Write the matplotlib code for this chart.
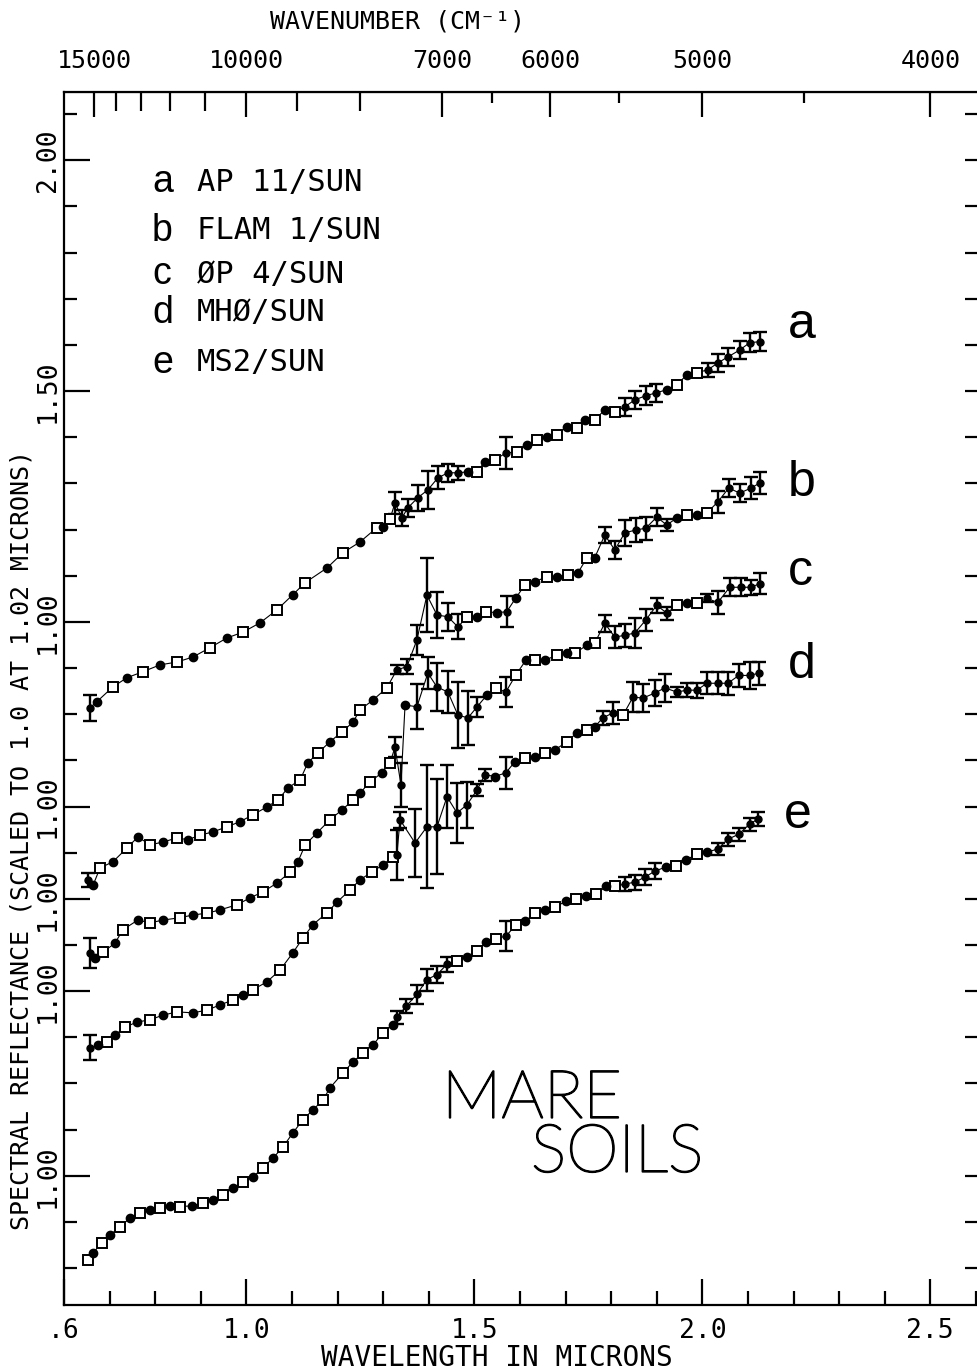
import numpy as np
import matplotlib.pyplot as plt
import matplotlib.patheffects as pe
from matplotlib.ticker import MultipleLocator, FixedLocator

plt.rcParams['font.family'] = ['DejaVu Sans Mono']

# curves: wavelength (microns), reflectance scaled to 1.0 at 1.02 um, error half-width
wl_a = [0.657, 0.672, 0.707, 0.738, 0.773, 0.811, 0.848, 0.883, 0.920, 0.957,
        0.993, 1.030, 1.067, 1.102, 1.129, 1.177, 1.212, 1.249, 1.286, 1.300,
        1.315, 1.326, 1.341, 1.354, 1.376, 1.398, 1.420, 1.442, 1.464, 1.486,
        1.506, 1.523, 1.545, 1.569, 1.593, 1.615, 1.637, 1.659, 1.681, 1.703,
        1.725, 1.743, 1.764, 1.786, 1.808, 1.830, 1.852, 1.876, 1.898, 1.922,
        1.944, 1.966, 1.988, 2.012, 2.034, 2.056, 2.082, 2.104, 2.126]
refl_a = [0.814, 0.827, 0.859, 0.879, 0.892, 0.907, 0.913, 0.924, 0.944, 0.965,
          0.978, 0.998, 1.026, 1.059, 1.085, 1.117, 1.150, 1.173, 1.204, 1.206,
          1.223, 1.258, 1.225, 1.247, 1.269, 1.286, 1.312, 1.323, 1.323, 1.325,
          1.325, 1.347, 1.351, 1.366, 1.368, 1.384, 1.394, 1.401, 1.405, 1.423,
          1.420, 1.438, 1.438, 1.459, 1.455, 1.466, 1.481, 1.490, 1.496, 1.503,
          1.514, 1.535, 1.540, 1.546, 1.561, 1.574, 1.589, 1.605, 1.607]
err_a = [0.028, 0, 0, 0, 0, 0, 0, 0, 0, 0,
         0, 0, 0, 0, 0, 0, 0, 0, 0, 0,
         0, 0.024, 0.017, 0.02, 0.028, 0.041, 0.025, 0.02, 0.015, 0,
         0, 0, 0, 0.034, 0, 0, 0, 0, 0, 0,
         0, 0, 0, 0, 0, 0.02, 0.02, 0.02, 0.02, 0,
         0, 0, 0, 0.015, 0.02, 0.02, 0.02, 0.02, 0.02]

wl_b = [0.653, 0.664, 0.679, 0.707, 0.738, 0.762, 0.789, 0.817, 0.848, 0.872,
        0.898, 0.927, 0.957, 0.986, 1.014, 1.045, 1.069, 1.091, 1.118, 1.135,
        1.157, 1.183, 1.210, 1.234, 1.249, 1.278, 1.308, 1.330, 1.352, 1.374,
        1.396, 1.418, 1.442, 1.464, 1.484, 1.506, 1.525, 1.550, 1.571, 1.591,
        1.611, 1.633, 1.659, 1.681, 1.705, 1.727, 1.747, 1.764, 1.786, 1.808,
        1.830, 1.854, 1.876, 1.900, 1.922, 1.944, 1.966, 1.988, 2.010, 2.034,
        2.058, 2.082, 2.107, 2.126]
refl_b = [0.841, 0.830, 0.867, 0.880, 0.910, 0.934, 0.917, 0.923, 0.932, 0.928,
          0.938, 0.945, 0.956, 0.967, 0.982, 0.999, 1.014, 1.040, 1.058, 1.095,
          1.116, 1.140, 1.162, 1.183, 1.209, 1.231, 1.257, 1.296, 1.303, 1.361,
          1.458, 1.415, 1.411, 1.389, 1.411, 1.411, 1.422, 1.420, 1.422, 1.452,
          1.480, 1.487, 1.498, 1.498, 1.502, 1.506, 1.539, 1.539, 1.588, 1.556,
          1.593, 1.599, 1.603, 1.627, 1.610, 1.625, 1.632, 1.632, 1.636, 1.660,
          1.690, 1.679, 1.690, 1.701]
err_b = [0.015, 0, 0, 0, 0, 0, 0, 0, 0, 0,
         0, 0, 0, 0, 0, 0, 0, 0, 0, 0,
         0, 0, 0, 0, 0, 0, 0, 0.01, 0.016, 0.033,
         0.08, 0.05, 0.03, 0.027, 0, 0, 0, 0, 0.034, 0,
         0, 0, 0, 0, 0, 0, 0, 0, 0.018, 0.02,
         0.028, 0.026, 0.025, 0.02, 0.013, 0, 0, 0, 0, 0.024,
         0.02, 0.02, 0.024, 0.024]

wl_c = [0.657, 0.668, 0.686, 0.712, 0.729, 0.762, 0.789, 0.817, 0.854, 0.883,
        0.914, 0.942, 0.979, 1.008, 1.036, 1.067, 1.096, 1.113, 1.129, 1.155,
        1.183, 1.210, 1.234, 1.249, 1.271, 1.297, 1.315, 1.326, 1.339, 1.348,
        1.374, 1.398, 1.418, 1.442, 1.464, 1.486, 1.506, 1.528, 1.547, 1.569,
        1.591, 1.613, 1.633, 1.655, 1.681, 1.703, 1.721, 1.747, 1.764, 1.786,
        1.808, 1.830, 1.852, 1.876, 1.900, 1.922, 1.944, 1.966, 1.988, 2.010,
        2.034, 2.060, 2.085, 2.107, 2.126]
refl_c = [0.883, 0.872, 0.885, 0.904, 0.933, 0.954, 0.948, 0.954, 0.959, 0.965,
          0.969, 0.976, 0.987, 1.002, 1.015, 1.034, 1.058, 1.080, 1.117, 1.143,
          1.171, 1.193, 1.214, 1.229, 1.253, 1.273, 1.294, 1.329, 1.247, 1.420,
          1.416, 1.489, 1.459, 1.448, 1.398, 1.392, 1.416, 1.442, 1.457, 1.448,
          1.485, 1.517, 1.517, 1.517, 1.528, 1.532, 1.532, 1.550, 1.554, 1.597,
          1.567, 1.571, 1.576, 1.604, 1.636, 1.619, 1.636, 1.640, 1.640, 1.651,
          1.642, 1.675, 1.675, 1.675, 1.683]
err_c = [0.033, 0, 0, 0, 0, 0, 0, 0, 0, 0,
         0, 0, 0, 0, 0, 0, 0, 0, 0, 0,
         0, 0, 0, 0, 0, 0, 0, 0.022, 0.047, 0,
         0.049, 0.035, 0.052, 0.045, 0.071, 0.058, 0.022, 0, 0, 0.033,
         0, 0, 0, 0, 0, 0, 0, 0, 0, 0.018,
         0.024, 0.025, 0.032, 0.024, 0.016, 0.014, 0, 0, 0, 0.009,
         0.025, 0.02, 0.02, 0.016, 0.022]

wl_d = [0.657, 0.675, 0.694, 0.712, 0.734, 0.760, 0.789, 0.817, 0.848, 0.883,
        0.914, 0.942, 0.971, 0.993, 1.014, 1.045, 1.074, 1.102, 1.124, 1.146,
        1.177, 1.199, 1.227, 1.249, 1.275, 1.300, 1.321, 1.330, 1.337, 1.370,
        1.396, 1.418, 1.440, 1.462, 1.484, 1.506, 1.523, 1.545, 1.569, 1.589,
        1.611, 1.633, 1.655, 1.677, 1.703, 1.725, 1.747, 1.764, 1.782, 1.804,
        1.826, 1.848, 1.870, 1.896, 1.918, 1.944, 1.966, 1.988, 2.010, 2.034,
        2.056, 2.080, 2.104, 2.124]
refl_d = [0.877, 0.883, 0.890, 0.905, 0.922, 0.933, 0.938, 0.948, 0.955, 0.953,
          0.959, 0.970, 0.981, 0.992, 1.003, 1.020, 1.046, 1.083, 1.115, 1.144,
          1.170, 1.193, 1.219, 1.241, 1.258, 1.274, 1.291, 1.295, 1.371, 1.321,
          1.356, 1.356, 1.421, 1.386, 1.404, 1.436, 1.469, 1.465, 1.473, 1.497,
          1.506, 1.508, 1.517, 1.523, 1.540, 1.560, 1.566, 1.573, 1.592, 1.603,
          1.598, 1.637, 1.635, 1.646, 1.657, 1.648, 1.652, 1.652, 1.667, 1.667,
          1.667, 1.684, 1.684, 1.689]
err_d = [0.027, 0, 0, 0, 0, 0, 0, 0, 0, 0,
         0, 0, 0, 0, 0, 0, 0, 0, 0, 0,
         0, 0, 0, 0, 0, 0, 0, 0.054, 0.017, 0.073,
         0.133, 0.103, 0.068, 0.065, 0.05, 0.013, 0.013, 0, 0.035, 0,
         0, 0, 0, 0, 0, 0, 0, 0, 0.016, 0.024,
         0, 0.032, 0.031, 0.029, 0.03, 0.011, 0.015, 0.016, 0.024, 0.024,
         0.025, 0.025, 0.029, 0.025]

wl_e = [0.653, 0.664, 0.683, 0.701, 0.723, 0.745, 0.767, 0.789, 0.811, 0.832,
        0.854, 0.881, 0.905, 0.927, 0.949, 0.971, 0.993, 1.014, 1.036, 1.058,
        1.080, 1.102, 1.124, 1.146, 1.168, 1.183, 1.212, 1.234, 1.256, 1.278,
        1.300, 1.321, 1.330, 1.350, 1.374, 1.396, 1.418, 1.440, 1.462, 1.484,
        1.506, 1.525, 1.547, 1.569, 1.591, 1.611, 1.633, 1.655, 1.677, 1.701,
        1.723, 1.745, 1.767, 1.789, 1.808, 1.830, 1.852, 1.874, 1.896, 1.920,
        1.942, 1.964, 1.988, 2.010, 2.034, 2.056, 2.080, 2.104, 2.122]
refl_e = [0.818, 0.833, 0.855, 0.872, 0.889, 0.909, 0.919, 0.926, 0.930, 0.935,
          0.933, 0.935, 0.941, 0.948, 0.959, 0.974, 0.987, 0.997, 1.017, 1.038,
          1.062, 1.093, 1.121, 1.143, 1.164, 1.190, 1.223, 1.247, 1.266, 1.284,
          1.310, 1.327, 1.343, 1.367, 1.393, 1.425, 1.436, 1.458, 1.465, 1.475,
          1.488, 1.506, 1.514, 1.519, 1.543, 1.551, 1.569, 1.575, 1.582, 1.595,
          1.599, 1.606, 1.610, 1.627, 1.627, 1.632, 1.636, 1.647, 1.660, 1.669,
          1.671, 1.684, 1.697, 1.701, 1.708, 1.729, 1.740, 1.762, 1.773]
err_e = [0, 0, 0, 0, 0, 0, 0, 0, 0, 0,
         0, 0, 0, 0, 0, 0, 0, 0, 0, 0,
         0, 0, 0, 0, 0, 0, 0, 0, 0, 0,
         0, 0, 0.015, 0.015, 0.02, 0.024, 0.018, 0.016, 0, 0,
         0, 0, 0, 0.033, 0, 0, 0, 0, 0, 0,
         0, 0, 0, 0, 0, 0.015, 0.016, 0.018, 0.018, 0,
         0, 0, 0, 0, 0.014, 0.014, 0.014, 0.014, 0.016]

curve_names = ['a', 'b', 'c', 'd', 'e']
curve_offsets = [0.0, -0.4, -0.6, -0.8, -1.2]
sample_names = ['AP 11/SUN', 'FLAM 1/SUN', 'ØP 4/SUN', 'MHØ/SUN', 'MS2/SUN']

y_ticks = [2.0, 1.5, 1.0, 0.6, 0.4, 0.2, -0.2]
y_ticklabels = ['2.00', '1.50', '1.00', '1.00', '1.00', '1.00', '1.00']
x_ticks = [0.6, 1.0, 1.5, 2.0, 2.5]
x_ticklabels = ['.6', '1.0', '1.5', '2.0', '2.5']
wn_major = [15000, 10000, 7000, 6000, 5000, 4000]
wn_minor = [14000, 13000, 12000, 11000, 9000, 8000]
wn_short = [6500, 5500, 4500]

curves = [(wl_a, refl_a, err_a), (wl_b, refl_b, err_b), (wl_c, refl_c, err_c),
          (wl_d, refl_d, err_d), (wl_e, refl_e, err_e)]

W, H = 977, 1371
fig = plt.figure(figsize=(W / 100, H / 100), dpi=100)
ax = fig.add_axes([64 / W, 1 - 1305 / H, (980 - 64) / W, (1305 - 92) / H])
ax.set_xlim(0.6, 2.609)
ax.set_ylim(-0.48, 2.148)

for (wl, refl, err), off in zip(curves, curve_offsets):
    wl = np.array(wl)
    y = np.array(refl) + off
    err = np.array(err)
    # thin trace linking the symbols, like the plotter chain
    ax.plot(wl, y, '-', color='black', lw=0.8)
    bar = err > 0
    ax.errorbar(wl[bar], y[bar], yerr=err[bar], fmt='o', ms=5, color='black',
                elinewidth=1.7, capsize=5, capthick=1.7)
    plain = ~bar
    idx = np.arange(len(wl))
    sq = plain & (idx % 2 == 0)
    dot = plain & (idx % 2 == 1)
    ax.plot(wl[sq], y[sq], 's', ms=6.5, mfc='white', mec='black', mew=1.4)
    ax.plot(wl[dot], y[dot], 'o', ms=6, color='black')

# axes styling
for s in ax.spines.values():
    s.set_linewidth(1.6)
ax.set_yticks(y_ticks)
ax.set_yticklabels(y_ticklabels, rotation=90, va='center', fontsize=19)
ax.yaxis.set_minor_locator(MultipleLocator(0.1))
ax.set_xticks(x_ticks)
ax.set_xticklabels(x_ticklabels, fontsize=19)
ax.xaxis.set_minor_locator(MultipleLocator(0.1))
ax.tick_params(axis='y', which='major', direction='in', length=19, width=1.6, pad=2)
ax.tick_params(axis='y', which='minor', direction='in', length=9, width=1.6)
ax.tick_params(axis='x', which='major', direction='in', length=19, width=1.6, pad=9)
ax.tick_params(axis='x', which='minor', direction='in', length=10, width=1.6)

right = ax.secondary_yaxis('right')
right.yaxis.set_major_locator(MultipleLocator(0.1))
right.tick_params(direction='in', length=11, width=1.6, labelright=False)

top = ax.secondary_xaxis('top', functions=(lambda w: 1e4 / w, lambda k: 1e4 / k))
top.set_xticks(wn_major)
top.set_xticklabels([str(v) for v in wn_major], fontsize=18)
top.xaxis.set_minor_locator(FixedLocator(wn_minor))
top.tick_params(which='major', direction='in', length=18, width=1.6, pad=14)
top.tick_params(which='minor', direction='in', length=14, width=1.6)

top2 = ax.secondary_xaxis('top', functions=(lambda w: 1e4 / w, lambda k: 1e4 / k))
top2.set_xticks(wn_short)
top2.tick_params(direction='in', length=8, width=1.6, labeltop=False)
top2.spines['top'].set_visible(False)

# axis titles
fig.text(22 / W, 1 - 840 / H, 'SPECTRAL REFLECTANCE (SCALED TO 1.0 AT 1.02 MICRONS)',
         rotation=90, ha='center', va='center', fontsize=18)
fig.text(497 / W, 1 - 1358 / H, 'WAVELENGTH IN MICRONS', ha='center', va='center', fontsize=20)
fig.text(397 / W, 1 - 22 / H, 'WAVENUMBER (CM⁻¹)', ha='center', va='center', fontsize=18)

# sample key
key_y = [182, 231, 274, 313, 363]
for name, sample, yk in zip(curve_names, sample_names, key_y):
    fig.text(152 / W, 1 - yk / H, name, family='Liberation Sans', fontsize=27,
             ha='left', va='center')
    fig.text(197 / W, 1 - yk / H, sample, fontsize=22, ha='left', va='center')

# curve letters at right
letter_pos = [(802, 325), (802, 483), (800, 572), (802, 665), (798, 815)]
for name, (px, py) in zip(curve_names, letter_pos):
    fig.text(px / W, 1 - py / H, name, family='Liberation Sans', fontsize=36,
             ha='center', va='center')

thin = [pe.withStroke(linewidth=1.3, foreground='black')]
fig.text(532 / W, 1 - 1100 / H, 'MARE', family='Lato', fontweight='light',
         fontsize=48, ha='center', va='center', path_effects=thin)
fig.text(617 / W, 1 - 1154 / H, 'SOILS', family='Lato', fontweight='light',
         fontsize=48, ha='center', va='center', path_effects=thin)

fig.savefig('out.png', dpi=100)
